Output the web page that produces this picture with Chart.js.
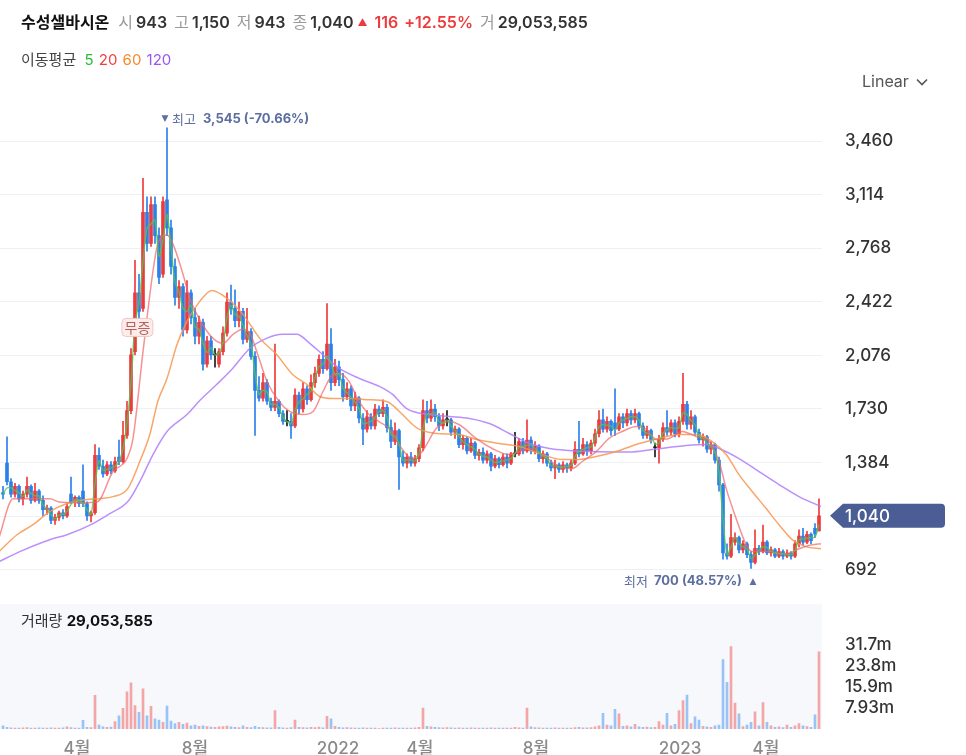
<!DOCTYPE html>
<html lang="ko">
<head>
<meta charset="utf-8">
<title>수성샐바시온</title>
<script src="https://cdn.jsdelivr.net/npm/chart.js@4.4.1/dist/chart.umd.min.js"></script>
<style>
  html, body { margin: 0; padding: 0; background: #fff; }
  body { width: 966px; height: 755px; position: relative; overflow: hidden;
         font-family: Inter, "Noto Sans CJK KR", sans-serif; }
  #chart { position: absolute; left: 0; top: 0; }
  .hdr { position: absolute; left: 21px; top: 10px; font-size: 16px; line-height: 22px; white-space: nowrap; color: #333; }
  .hdr .name { font-weight: 700; color: #111; margin-right: 9px; font-family: "Noto Sans CJK KR", sans-serif; }
  .hdr .k { color: #9a9a9a; margin-right: 3px; font-family: "Noto Sans CJK KR", sans-serif; }
  .hdr .v { font-weight: 600; margin-right: 7px; }
  .hdr .up { color: #ee3a3c; font-weight: 600; }
  .hdr .tri { font-size: 10px; vertical-align: 2px; margin-right: 7px; color: #ee3a3c; }
  .ma { position: absolute; left: 21px; top: 48px; font-size: 15px; line-height: 22px; color: #444; }
  .ma .k { font-family: "Noto Sans CJK KR", sans-serif; margin-right: 3px; }
  .ma span + span { margin-left: 1px; }
  .lin { position: absolute; left: 862px; top: 70px; font-size: 16px; line-height: 22px; color: #555; }
  .vol { position: absolute; left: 21px; top: 610px; font-size: 15px; line-height: 22px; color: #333; }
  .vol b { color: #111; font-weight: 700; }
</style>
</head>
<body>
<canvas id="chart" width="966" height="755"></canvas>
<div class="hdr" id="hdr"></div>
<div class="ma"><span class="k">이동평균</span> <span style="color:#2dbb3a">5</span> <span style="color:#f03e3e">20</span> <span style="color:#f5892b">60</span> <span style="color:#9a55f5">120</span></div>
<div class="lin">Linear <svg width="12" height="8" style="vertical-align:1px;margin-left:3px"><polyline points="1,1.5 6,6.5 11,1.5" fill="none" stroke="#555" stroke-width="1.6"/></svg></div>
<div class="vol" id="volLabel"></div>
<script>
// ---- data (one candle ~ 3 trading days) ----
const opens = [
  1190,1380,1260,1180,1230,1150,1180,1230,1140,1200, 1140,1080,1090,1010,1030,1060,1040,1180,1130,1160,
  1200,1120,1040,1060,1430,1360,1310,1370,1330,1420, 1390,1560,1720,2100,2480,2380,3000,2800,3050,2850,
  2600,3080,2900,2650,2450,2520,2240,2480,2320,2200, 2290,2020,2170,2080,2020,2100,2220,2420,2380,2300,
  2360,2180,2230,2070,1850,1800,1900,1780,1740,1780, 1700,1650,1650,1620,1820,1730,1860,1790,1900,1960,
  2050,1990,2150,1900,2000,1920,1810,1860,1750,1800, 1670,1600,1680,1620,1730,1700,1740,1610,1520,1590,
  1420,1380,1420,1380,1410,1480,1720,1670,1730,1680, 1620,1660,1660,1580,1600,1500,1540,1460,1510,1430,
  1450,1400,1440,1360,1410,1370,1420,1380,1440,1440, 1520,1460,1530,1460,1490,1410,1440,1380,1350,1370,
  1340,1370,1350,1380,1470,1440,1500,1460,1510,1570, 1660,1600,1650,1640,1600,1680,1640,1700,1660,1700,
  1620,1560,1590,1480,1480,1540,1610,1580,1640,1570, 1650,1760,1630,1680,1580,1530,1550,1470,1500,1400,
  1240,800,780,870,900,820,860,790,740,830, 810,870,800,820,780,810,780,800,780,860,
  910,870,920,960,943
];
const highs = [
  1230,1550,1280,1250,1240,1200,1290,1240,1250,1210, 1170,1110,1100,1050,1070,1080,1120,1290,1170,1170,
  1370,1130,1070,1500,1480,1400,1390,1390,1420,1530, 1650,1780,2120,2690,2600,3220,3100,3100,3100,2900,
  3100,3545,2950,2700,2560,2540,2560,2500,2380,2330, 2310,2200,2200,2120,2120,2260,2480,2530,2500,2420,
  2380,2380,2250,2100,1940,1960,1920,1800,2150,1790, 1720,1720,1700,1860,1840,1900,1880,1950,2000,2080,
  2100,2410,2250,2050,2040,1960,1900,1880,1840,1810, 1700,1720,1700,1760,1750,1790,1760,1660,1640,1600,
  1460,1440,1450,1430,1500,1790,1780,1790,1760,1700, 1700,1720,1670,1620,1610,1560,1550,1540,1520,1470,
  1480,1460,1450,1430,1420,1440,1440,1450,1580,1540, 1540,1660,1550,1520,1500,1460,1450,1400,1400,1380,
  1390,1380,1400,1520,1650,1540,1520,1530,1600,1720, 1730,1680,1660,1860,1700,1700,1730,1720,1730,1710,
  1640,1620,1600,1510,1560,1640,1720,1660,1660,1680, 1960,1780,1720,1690,1600,1570,1560,1520,1510,1420,
  1250,860,1050,930,910,880,870,810,950,850, 980,880,840,830,830,820,820,810,880,950,
  960,940,930,990,1150
];
const lows = [
  1150,1240,1160,1160,1130,1110,1160,1120,1130,1120, 1040,1050,990,985,1010,1020,1030,1120,1100,1100,
  1100,1010,1000,1050,1340,1290,1300,1310,1320,1370, 1380,1540,1700,2080,2300,2360,2750,2780,2800,2540,
  2580,2850,2600,2400,2380,2200,2220,2280,2150,2150, 1980,2000,2050,2000,2000,2080,2200,2340,2260,2260,
  2150,2160,2050,1560,1780,1780,1760,1720,1720,1680, 1630,1620,1540,1610,1700,1710,1760,1780,1870,1940,
  1960,1980,1850,1880,1880,1780,1790,1720,1720,1640, 1500,1580,1600,1600,1680,1680,1580,1480,1500,1210,
  1360,1350,1360,1360,1390,1460,1640,1650,1650,1590, 1600,1620,1560,1540,1480,1470,1440,1450,1410,1400,
  1380,1380,1330,1350,1350,1360,1350,1370,1420,1430, 1440,1450,1440,1440,1390,1380,1360,1330,1280,1320,
  1320,1320,1330,1370,1420,1430,1430,1440,1490,1550, 1580,1580,1560,1560,1590,1610,1620,1630,1640,1600,
  1540,1540,1510,1420,1380,1520,1560,1560,1550,1550, 1630,1600,1600,1560,1510,1490,1450,1440,1380,1200,
  760,760,770,850,800,800,770,700,730,790, 800,790,780,770,770,760,770,760,770,840,
  850,860,860,900,943
];
const closes = [
  1180,1260,1180,1230,1150,1180,1230,1140,1200,1140, 1080,1090,1010,1030,1060,1040,1100,1130,1160,1120,
  1120,1040,1060,1430,1360,1310,1370,1330,1390,1390, 1560,1720,2080,2480,2360,3000,2800,3050,2850,2580,
  3070,2900,2650,2450,2520,2240,2480,2320,2200,2290, 2020,2170,2080,2080,2100,2220,2420,2380,2300,2360,
  2180,2230,2070,1850,1800,1900,1780,1740,1780,1700, 1650,1650,1620,1820,1730,1860,1790,1900,1960,2050,
  1990,2150,1900,2000,1920,1810,1860,1750,1800,1670, 1600,1680,1620,1730,1700,1740,1610,1520,1590,1420,
  1380,1420,1380,1410,1480,1720,1670,1730,1680,1620, 1660,1660,1580,1600,1500,1540,1460,1510,1430,1450,
  1400,1440,1360,1410,1370,1420,1380,1440,1440,1520, 1460,1530,1460,1490,1410,1440,1380,1350,1370,1340,
  1370,1350,1380,1470,1440,1500,1460,1510,1570,1660, 1600,1650,1590,1600,1680,1640,1700,1660,1700,1620,
  1560,1590,1530,1480,1540,1610,1580,1640,1570,1650, 1760,1630,1680,1580,1530,1550,1470,1500,1400,1240,
  800,780,900,900,820,860,790,740,830,810, 870,800,820,780,810,780,800,780,860,910,
  870,920,880,924,1040
];
// volume, millions of shares
const volumesM = [
  1.2,0.6,0.4,0.3,0.3,0.4,0.5,0.3,0.3,0.4, 0.3,0.3,0.4,0.3,0.3,0.4,0.8,0.5,0.3,0.3,
  3.3,0.6,0.5,12.7,1.5,0.8,0.6,0.7,2.8,5.0, 7.8,14.0,17.4,8.8,6.3,15.1,5.0,8.5,3.8,3.4,
  2.5,8.6,3.0,2.0,2.5,1.8,2.2,1.2,1.5,1.0, 1.2,0.9,0.7,0.6,0.8,0.9,1.1,0.8,0.6,0.5,
  1.2,0.6,0.5,1.0,0.6,0.5,0.4,0.4,6.9,0.6, 0.4,0.3,0.5,3.4,0.6,0.5,0.4,0.6,0.5,0.7,
  0.4,4.8,3.8,1.0,0.6,0.4,0.5,0.4,0.3,0.3, 0.4,0.3,0.3,0.3,0.2,0.3,0.3,0.3,0.4,0.3,
  0.3,0.3,0.3,0.4,0.6,7.9,1.0,0.8,0.6,0.5, 0.4,0.5,0.4,0.3,0.4,0.3,0.3,0.4,0.3,0.3,
  0.3,0.3,0.4,0.3,0.3,0.3,0.3,0.3,0.6,0.4, 0.3,7.9,0.8,0.5,0.4,0.3,0.3,0.3,0.4,0.3,
  0.3,0.3,0.3,0.5,0.6,0.4,0.4,0.5,0.8,1.2, 5.9,1.5,1.2,7.4,5.7,1.0,1.2,0.8,1.8,0.8,
  0.6,0.7,0.5,0.6,2.8,1.5,5.9,1.2,1.8,6.9, 10.7,12.8,2.0,4.6,3.4,1.0,0.8,0.6,1.2,1.5,
  26.2,17.6,31.1,9.8,5.7,0.9,1.5,2.5,6.5,1.2, 10.0,2.5,1.2,0.6,0.8,0.5,1.5,0.6,1.2,2.0,
  1.2,0.9,0.6,5.3,29.053585
];
// moving averages: [candle position, price]
const ma20Pts = [
  [-1,900],[2.5,1150],[11.7,1150],[14,1130],[19,1125],[23.5,1130],[27.5,1326],[31,1410],[32.5,1540],
  [35,2100],[37.5,2620],[38.7,2795],[41,2853],[42.5,2795],[45,2600],[46.7,2445],[49,2315],[52.5,2186],
  [55,2154],[57.5,2212],[60,2245],[61.7,2220],[64,2057],[66,1908],[69,1779],[71.7,1714],[75,1694],
  [77.5,1714],[80,1843],[82.5,1953],[84,1960],[86.5,1908],[89,1779],[91.5,1695],[94,1649],[96.5,1604],
  [99,1500],[102.3,1410],[104.8,1455],[108.3,1604],[111.5,1649],[114,1630],[118.3,1540],[122.3,1475],
  [126.5,1436],[129,1455],[131.5,1475],[134.8,1436],[139,1358],[142.3,1345],[144.8,1391],[148.3,1455],
  [151.5,1540],[154.8,1585],[158.3,1617],[160.8,1600],[163.3,1533],[166.5,1540],[169.8,1585],
  [173.3,1552],[176.5,1520],[179,1391],[180.8,1216],[183.3,1022],[185.8,853],[187.3,809],[190.8,809],
  [195.8,796],[199,828],[202.3,853],[204.5,860]
];
const ma60Pts = [
  [-1,809],[3.5,918],[7.5,983],[11.7,1067],[16,1120],[21,1145],[24.2,1151],[27.5,1164],[31.2,1216],
  [34.2,1391],[36.7,1565],[38.7,1779],[41,1927],[43.5,2147],[46,2296],[49.2,2425],[52.2,2496],
  [56,2445],[60,2341],[64.2,2186],[68.4,2082],[72.4,1953],[76,1888],[79.2,1811],[82.4,1798],
  [86.6,1798],[90.9,1790],[95.9,1779],[99.1,1714],[102.4,1630],[104.1,1598],[108.4,1572],[114.1,1565],
  [118.4,1533],[124.1,1507],[129.1,1488],[134.8,1436],[139.8,1404],[143.3,1404],[148.3,1423],
  [153.3,1455],[159,1507],[164,1540],[169,1565],[173.3,1565],[177.3,1520],[180.8,1436],[184,1306],
  [187.3,1197],[190.8,1087],[194,983],[197.3,886],[200.7,841],[204.5,828]
];
const ma120Pts = [
  [-1,744],[4.2,809],[11.7,886],[16,918],[22.5,990],[26.7,1054],[31.2,1132],[34.2,1261],[37.5,1436],
  [41,1585],[46,1694],[49.2,1785],[53.4,1888],[57.4,1992],[61.7,2121],[65.9,2186],[69.9,2212],
  [73.4,2212],[76.7,2154],[79.9,2082],[84.1,1992],[89.1,1927],[94.1,1876],[97.4,1824],[100.9,1733],
  [106.6,1694],[111.6,1682],[116.6,1669],[121.6,1636],[126.6,1572],[131.6,1507],[136.6,1475],
  [141.6,1462],[146.6,1455],[156.6,1452],[162.3,1468],[170.8,1494],[175.8,1501],[179,1475],[184,1410],
  [189,1326],[194,1242],[199,1164],[204.5,1100]
];
const monthTickPos = [18.5, 48, 83.75, 104.25, 133.25, 169.25, 190.75];
const monthTickLabels = ['4월', '8월', '2022', '4월', '8월', '2023', '4월'];
const priceTicks = [692, 1038, 1384, 1730, 2076, 2422, 2768, 3114, 3460];
const volumeTicksM = [7.93, 15.86, 23.79, 31.72];

// ---- header ----
const last = closes.length - 1;
const prevClose = closes[last - 1];
const chg = closes[last] - prevClose;
const fmt = v => Math.round(v).toLocaleString('en-US');
document.getElementById('hdr').innerHTML =
  '<span class="name">수성샐바시온</span>' +
  '<span class="k">시</span><span class="v">' + fmt(opens[last]) + '</span>' +
  '<span class="k">고</span><span class="v">' + fmt(highs[last]) + '</span>' +
  '<span class="k">저</span><span class="v">' + fmt(lows[last]) + '</span>' +
  '<span class="k">종</span><span class="v" style="margin-right:4px">' + fmt(closes[last]) + '</span>' +
  '<span class="tri">▲</span><span class="up" style="margin-right:6px">' + fmt(chg) + '</span>' +
  '<span class="up" style="margin-right:7px">+' + (chg / prevClose * 100).toFixed(2) + '%</span>' +
  '<span class="k">거</span><span class="v">' + fmt(volumesM[last] * 1e6) + '</span>';
document.getElementById('volLabel').innerHTML = '거래량 <b>' + fmt(volumesM[last] * 1e6) + '</b>';

// ---- chart ----
const UP = '#ee3a3c', DOWN = '#2b80ea', FLAT = '#1a1a1a';
const idx = closes.map((_, i) => i);
const candleColor = idx.map(i => closes[i] > opens[i] ? UP : closes[i] < opens[i] ? DOWN : FLAT);
const volColor = idx.map(i => closes[i] >= opens[i] ? 'rgba(240,110,110,0.6)' : 'rgba(90,160,240,0.6)');
const FONT = 'Inter, "Noto Sans CJK KR", sans-serif';
Chart.defaults.font.family = FONT;

const hiIdx = highs.indexOf(Math.max(...highs));
const loIdx = lows.indexOf(Math.min(...lows));

const overlay = {
  id: 'overlay',
  beforeDatasetsDraw(chart) {
    const { ctx, chartArea, scales } = chart;
    ctx.save();
    ctx.fillStyle = '#f7f8fc';
    ctx.fillRect(chartArea.left, scales.yv.top, chartArea.right - chartArea.left, scales.yv.bottom - scales.yv.top);
    ctx.restore();
  },
  afterDraw(chart) {
    const { ctx, scales } = chart;
    const x = scales.x, y = scales.y;
    ctx.save();
    ctx.textBaseline = 'middle';
    // highest
    const hx = x.getPixelForValue(hiIdx) - 2, hy = y.getPixelForValue(highs[hiIdx]) - 9;
    ctx.fillStyle = '#5d6fa0';
    ctx.font = '9px "DejaVu Sans"';
    ctx.textAlign = 'center';
    ctx.fillText('▼', hx, hy);
    ctx.textAlign = 'left';
    ctx.font = '13px "Noto Sans CJK KR"';
    ctx.fillText('최고', hx + 7, hy);
    ctx.font = 'bold 13px ' + FONT;
    const hiPct = ((closes[last] - highs[hiIdx]) / highs[hiIdx] * 100).toFixed(2);
    ctx.fillText(fmt(highs[hiIdx]) + ' (' + hiPct + '%)', hx + 38, hy);
    // lowest
    const lx = x.getPixelForValue(loIdx) + 2, ly = y.getPixelForValue(lows[loIdx]) + 13;
    ctx.font = '9px "DejaVu Sans"';
    ctx.textAlign = 'center';
    ctx.fillText('▲', lx, ly);
    ctx.textAlign = 'right';
    ctx.font = 'bold 13px ' + FONT;
    const loPct = ((closes[last] - lows[loIdx]) / lows[loIdx] * 100).toFixed(2);
    const loTxt = fmt(lows[loIdx]) + ' (' + loPct + '%)';
    ctx.fillText(loTxt, lx - 11, ly);
    const w = ctx.measureText(loTxt).width;
    ctx.font = '13px "Noto Sans CJK KR"';
    ctx.fillText('최저', lx - 17 - w, ly);
    // bonus-issue tag
    const bx = x.getPixelForValue(33.6), by = y.getPixelForValue(2257);
    ctx.beginPath();
    ctx.roundRect(bx - 15.5, by - 9, 31, 18, 4);
    ctx.fillStyle = '#fdecea';
    ctx.fill();
    ctx.strokeStyle = '#f1c6c2';
    ctx.lineWidth = 1;
    ctx.stroke();
    ctx.fillStyle = '#b5625d';
    ctx.textAlign = 'center';
    ctx.font = '14px "Noto Sans CJK KR"';
    ctx.fillText('무증', bx, by + 0.5);
    // last price tag
    const py = y.getPixelForValue(closes[last]);
    ctx.beginPath();
    ctx.moveTo(830, py);
    ctx.lineTo(843, py - 12);
    ctx.lineTo(941, py - 12);
    ctx.quadraticCurveTo(945, py - 12, 945, py - 8);
    ctx.lineTo(945, py + 8);
    ctx.quadraticCurveTo(945, py + 12, 941, py + 12);
    ctx.lineTo(843, py + 12);
    ctx.closePath();
    ctx.fillStyle = '#4a5e95';
    ctx.fill();
    ctx.fillStyle = '#fff';
    ctx.textAlign = 'left';
    ctx.font = '500 17px ' + FONT;
    ctx.fillText(fmt(closes[last]), 845, py + 1);
    ctx.restore();
  }
};

new Chart(document.getElementById('chart'), {
  type: 'bar',
  data: {
    datasets: [
      { type: 'line', label: 'MA5', data: idx.map(i => ({ x: i, y: i ? (closes[i] + closes[i - 1]) / 2 : closes[i] })),
        borderColor: 'rgba(80,200,80,0.75)', borderWidth: 1.5, pointRadius: 0, tension: 0.3, yAxisID: 'y', order: 1 },
      { type: 'line', label: 'MA20', data: ma20Pts.map(([x, y]) => ({ x, y })),
        borderColor: 'rgba(242,100,100,0.7)', borderWidth: 1.5, pointRadius: 0, cubicInterpolationMode: 'monotone', yAxisID: 'y', order: 2 },
      { type: 'line', label: 'MA60', data: ma60Pts.map(([x, y]) => ({ x, y })),
        borderColor: 'rgba(247,150,80,0.85)', borderWidth: 1.5, pointRadius: 0, cubicInterpolationMode: 'monotone', yAxisID: 'y', order: 3 },
      { type: 'line', label: 'MA120', data: ma120Pts.map(([x, y]) => ({ x, y })),
        borderColor: 'rgba(175,125,250,0.85)', borderWidth: 1.5, pointRadius: 0, cubicInterpolationMode: 'monotone', yAxisID: 'y', order: 4 },
      { label: 'body', data: idx.map(i => ({ x: i, y: [opens[i], closes[i]] })),
        backgroundColor: candleColor, barThickness: 3, minBarLength: 1, grouped: false, yAxisID: 'y', order: 5 },
      { label: 'wick', data: idx.map(i => ({ x: i, y: [lows[i], highs[i]] })),
        backgroundColor: candleColor, barThickness: 1, grouped: false, yAxisID: 'y', order: 6 },
      { label: 'volume', data: idx.map(i => ({ x: i, y: volumesM[i] * 1e6 })),
        backgroundColor: volColor, barThickness: 2, grouped: false, yAxisID: 'yv', order: 7 }
    ]
  },
  options: {
    responsive: false,
    animation: false,
    devicePixelRatio: 1,
    layout: { padding: { top: 101, left: 0, right: 0, bottom: 0 } },
    plugins: { legend: { display: false }, tooltip: { enabled: false } },
    scales: {
      x: {
        type: 'linear', min: -0.75, max: 204.75, offset: false,
        grid: { display: false }, border: { display: false },
        afterBuildTicks: s => { s.ticks = monthTickPos.map(v => ({ value: v })); },
        afterFit: s => { s.height = 26; },
        ticks: { autoSkip: false, maxRotation: 0, padding: 2, color: '#8a8a8a', font: { size: 17, weight: '500' },
                 callback: (v, i) => monthTickLabels[i] }
      },
      y: {
        type: 'linear', position: 'right', stack: 'panes', stackWeight: 502, min: 472, max: 3719,
        grid: { color: '#eef0f5', drawTicks: true, tickLength: 23, tickColor: 'rgba(0,0,0,0)' }, border: { display: false },
        afterBuildTicks: s => { s.ticks = priceTicks.map(v => ({ value: v })); },
        afterFit: s => { s.width = 144; },
        ticks: { autoSkip: false, padding: 0, color: '#333', font: { size: 17, weight: '500' }, callback: v => v.toLocaleString('en-US') }
      },
      yv: {
        type: 'linear', position: 'right', stack: 'panes', stackWeight: 125, min: 0, max: 47.2e6,
        grid: { color: 'rgba(0,0,0,0)', drawTicks: true, tickLength: 23, tickColor: 'rgba(0,0,0,0)' }, border: { display: false },
        afterBuildTicks: s => { s.ticks = volumeTicksM.map(v => ({ value: v * 1e6 })); },
        afterFit: s => { s.width = 144; },
        ticks: { autoSkip: false, padding: 0, color: '#333', font: { size: 17, weight: '500' }, callback: v => (v / 1e6).toPrecision(3) + 'm' }
      }
    }
  },
  plugins: [overlay]
});
</script>
</body>
</html>
